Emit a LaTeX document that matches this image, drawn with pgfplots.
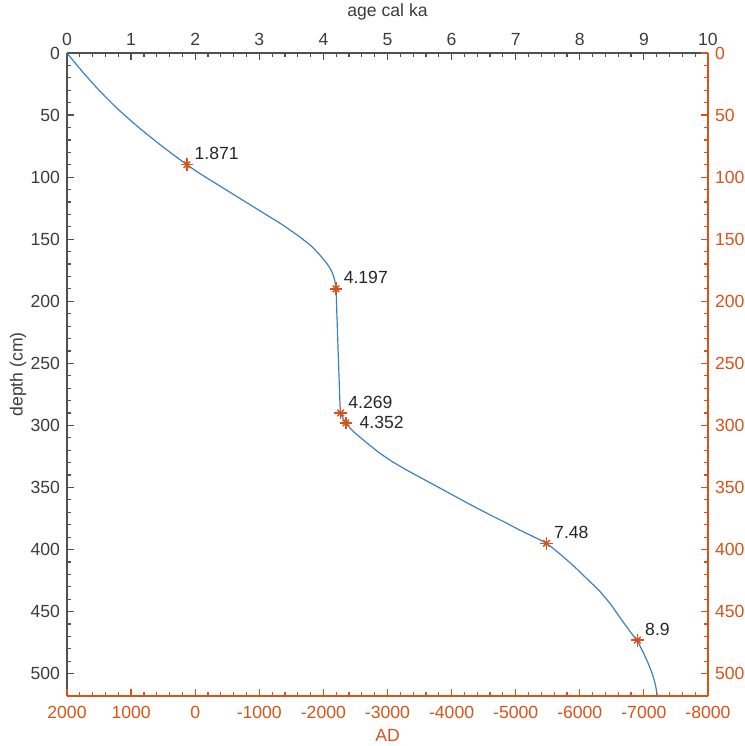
\documentclass[border=0pt]{standalone}
\usepackage{pgfplots}
\pgfplotsset{compat=1.18}
\usepackage{fontspec}
\setmainfont{Liberation Sans}
\definecolor{axgray}{RGB}{80,80,80}
\definecolor{lblgray}{RGB}{60,60,60}
\definecolor{morange}{RGB}{217,83,25}
\definecolor{mblue}{RGB}{62,128,190}
\newcommand{\fs}{\fontsize{8.8}{10}\selectfont}
\begin{document}
\begin{tikzpicture}
\useasboundingbox (-33.5pt,-25pt) rectangle (339pt,348pt);
% ---------- main axis: age (top) vs depth (left)
\begin{axis}[
  scale only axis, width=320.5pt, height=321.5pt,
  xmin=0, xmax=10, ymin=0, ymax=518, y dir=reverse,
  axis x line=top, axis y line=left,
  axis line style={-, draw=axgray, line width=0.6pt},
  tick align=inside,
  xtick={0,1,...,10}, minor x tick num=4,
  ytick={0,50,...,500}, minor y tick num=4,
  major tick length=3.5pt, minor tick length=2pt,
  tick style={axgray, line width=0.6pt},
  ticklabel style={font=\fs, text=lblgray},
  /pgf/number format/assume math mode=true,
  /pgf/number format/set thousands separator={},
  xlabel={age cal ka}, ylabel={depth (cm)},
  xlabel style={font=\fs, text=lblgray, at={(axis description cs:0.5,1)}, anchor=center, yshift=20.5pt},
  ylabel style={font=\fs, text=lblgray, at={(axis description cs:0,0.5)}, anchor=center, yshift=24.5pt},
  clip=false,
]
\addplot[mblue, line width=0.6pt, no marks, smooth, tension=0.35] coordinates {
(0,0) (0.24,15) (0.5,30) (0.79,45) (1.12,60) (1.48,75) (1.871,90)
(2.1,98) (2.35,106) (2.6,114) (2.85,122) (3.1,130) (3.35,138) (3.6,147)
(3.8,155) (3.95,163) (4.06,170) (4.13,176) (4.17,182) (4.197,190)
(4.21,210) (4.23,240) (4.25,270) (4.269,290) (4.352,298)
(4.45,304) (4.56,309) (4.7,315) (4.87,322) (5.07,329) (5.3,336) (5.55,343) (5.8,350)
(6.05,357) (6.3,364) (6.56,371) (6.83,378) (7.05,384) (7.25,389) (7.48,395)
(7.7,404) (7.92,414) (8.12,424) (8.3,433) (8.48,444) (8.63,455) (8.77,465) (8.9,474)
(8.99,483) (9.07,492) (9.13,500) (9.18,509) (9.21,518)
};
\addplot[only marks, mark=+, mark size=3.2pt, morange, line width=0.75pt,
  nodes near coords, point meta=explicit symbolic,
  every node near coord/.append style={font=\fs, text=black!85, anchor=west, inner sep=0pt, xshift=3.5pt, yshift=5.5pt}]
  table[meta=lab] {
x y lab
1.871 90 1.871
4.197 190 4.197
4.269 290 4.269
7.48 395 7.48
8.9 473 8.9
};
\addplot[only marks, mark=+, mark size=3.2pt, morange, line width=0.75pt,
  nodes near coords, point meta=explicit symbolic,
  every node near coord/.append style={font=\fs, text=black!85, anchor=west, inner sep=0pt, xshift=6.5pt, yshift=0pt}]
  table[meta=lab] {
x y lab
4.352 298 4.352
};
\addplot[only marks, mark=x, mark size=2.3pt, morange, line width=0.75pt] coordinates {
(1.871,90) (4.197,190) (4.269,290) (4.352,298) (7.48,395) (8.9,473)
};
\end{axis}
% ---------- secondary axis: AD (bottom) vs depth (right)
\begin{axis}[
  scale only axis, width=320.5pt, height=321.5pt,
  xmin=-8000, xmax=2000, x dir=reverse,
  ymin=0, ymax=518, y dir=reverse,
  axis x line=bottom, axis y line=right,
  axis line style={-, draw=morange, line width=0.6pt},
  tick align=inside,
  xtick={-8000,-7000,...,2000}, minor x tick num=4,
  ytick={0,50,...,500}, minor y tick num=4,
  major tick length=3.5pt, minor tick length=2pt,
  tick style={morange, line width=0.6pt},
  ticklabel style={font=\fs, text=morange},
  xticklabel style={yshift=-1.5pt},
  /pgf/number format/assume math mode=true,
  /pgf/number format/set thousands separator={},
  xlabel={AD},
  xlabel style={font=\fs, text=morange, at={(axis description cs:0.5,0)}, anchor=center, yshift=-19.5pt},
]
\addplot[draw=none, forget plot] coordinates {(0,0)};
\end{axis}
\end{tikzpicture}
\end{document}
